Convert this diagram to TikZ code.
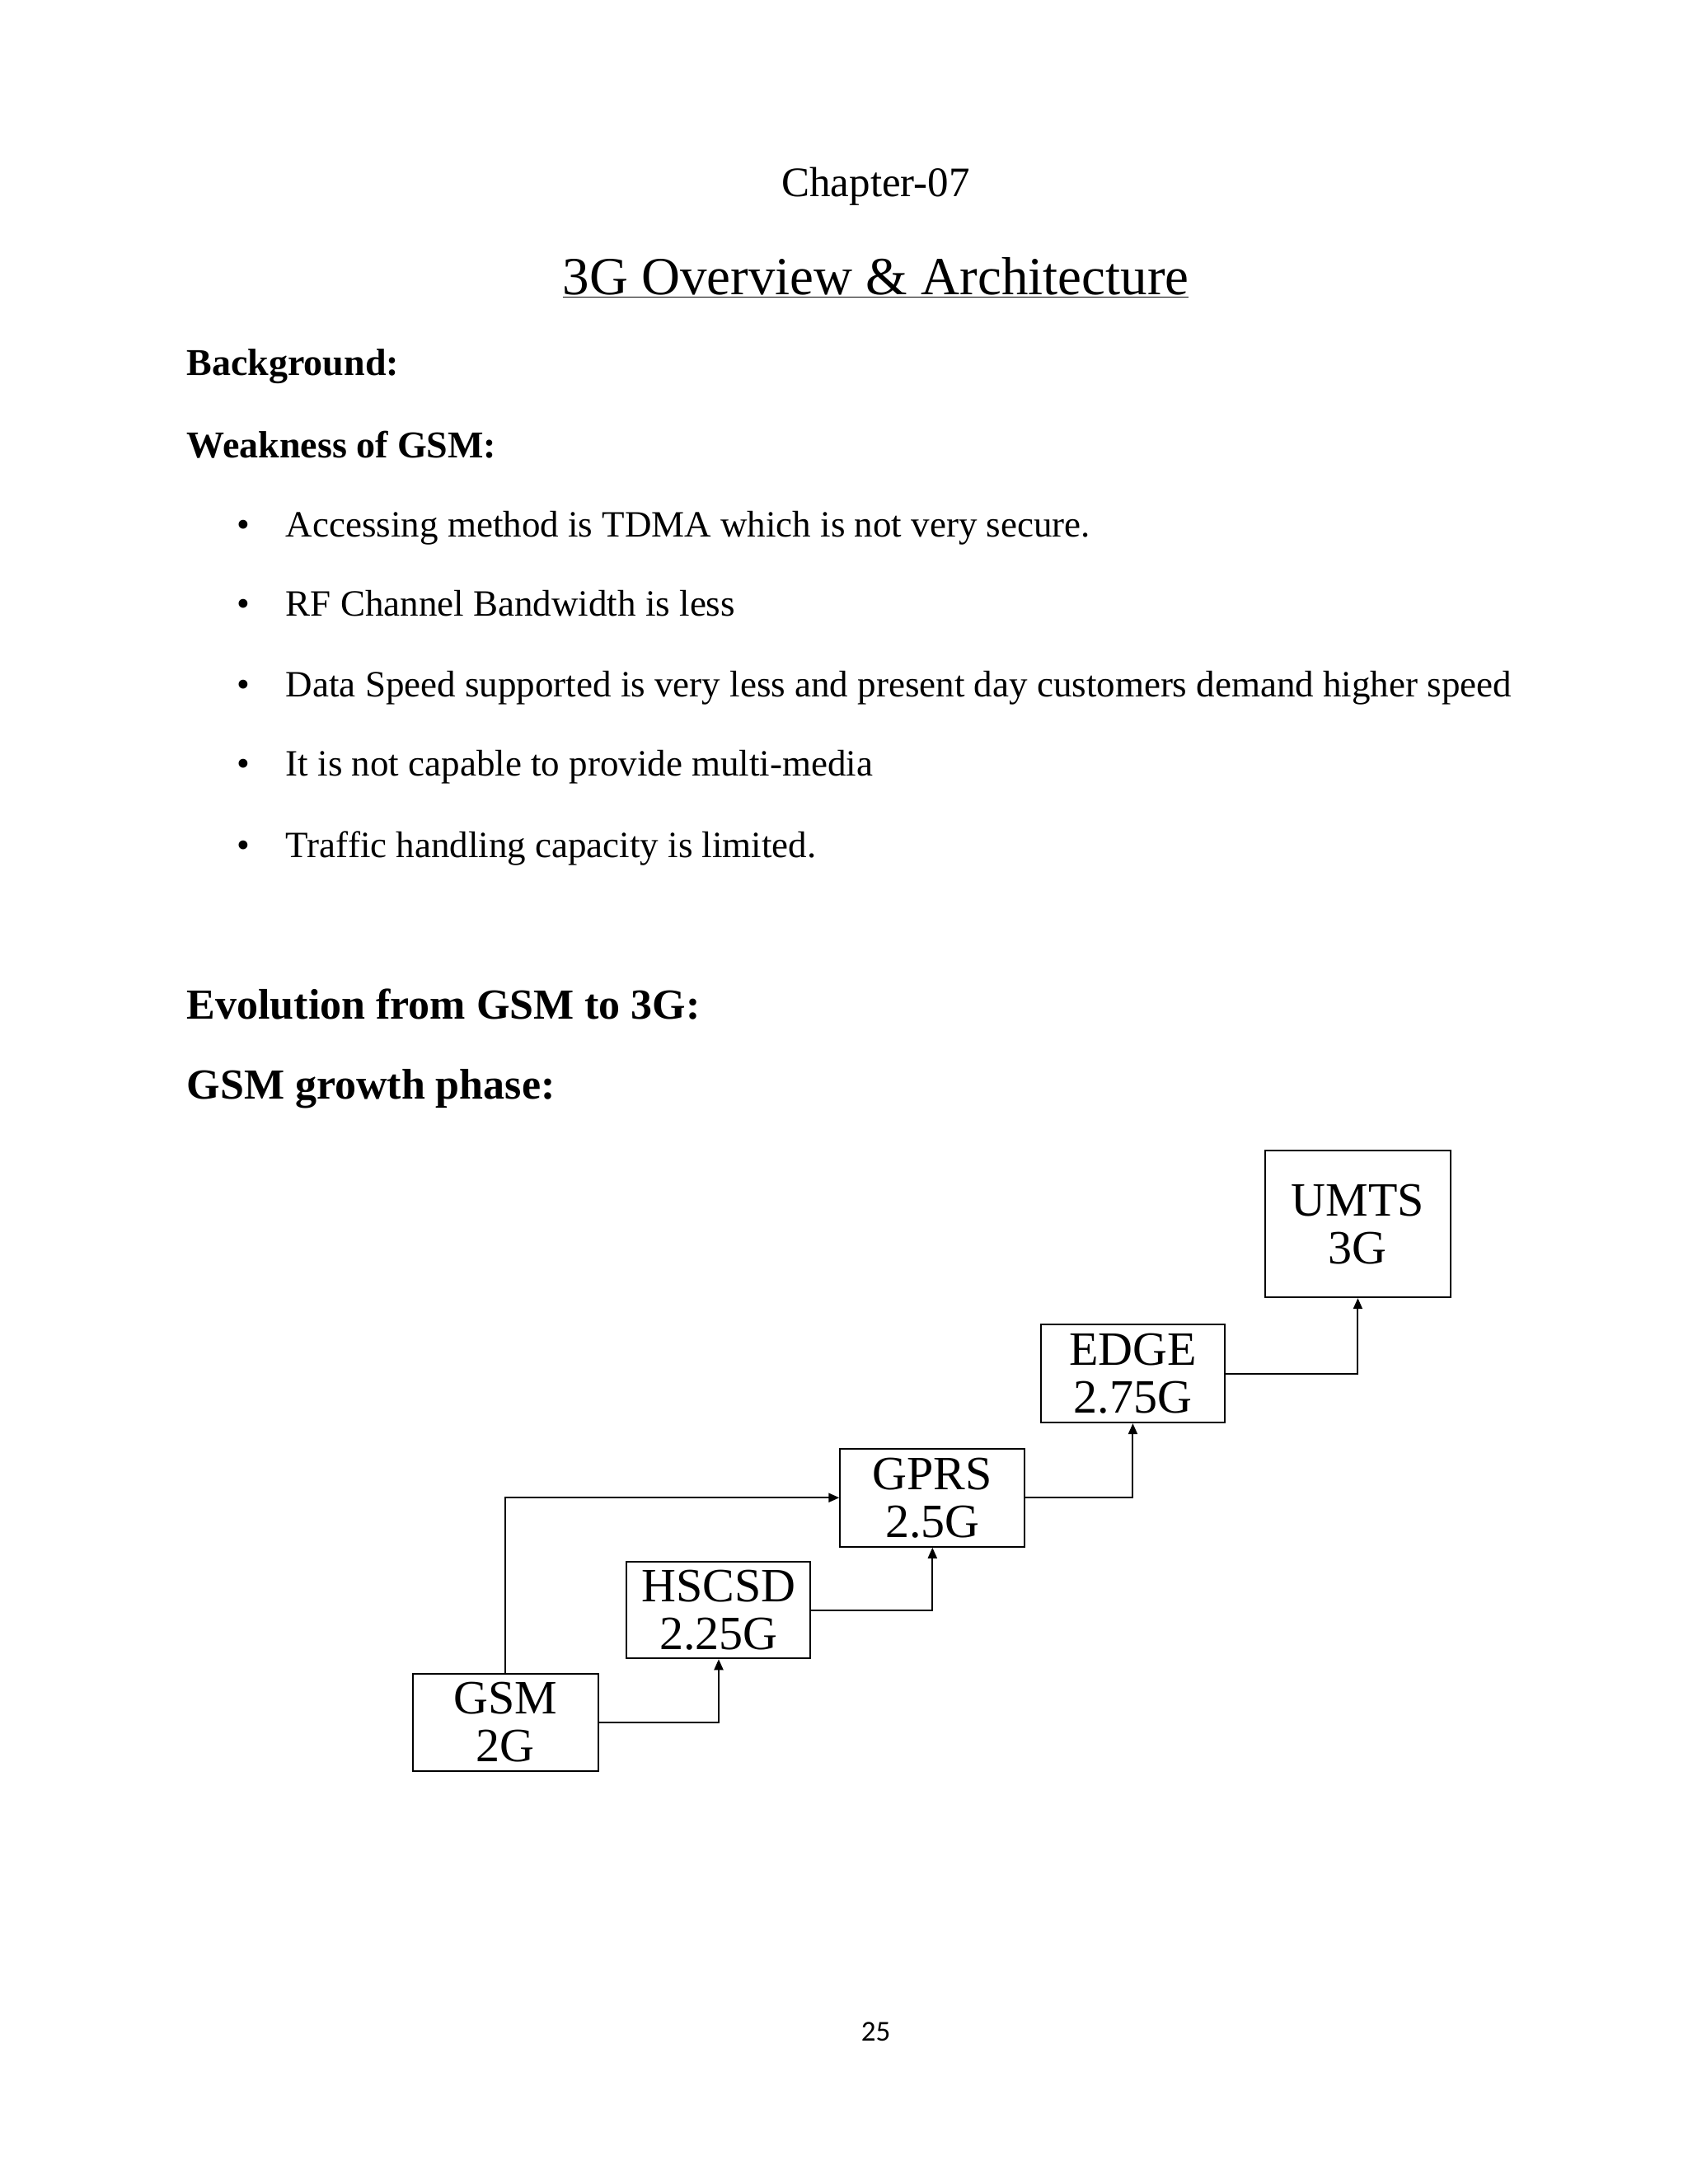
\documentclass[tikz,border=0pt]{standalone}
\usepackage{fontspec}
\setmainfont{Liberation Serif}
\newfontfamily\pgnum{Carlito}
\usetikzlibrary{arrows.meta}
\begin{document}
\begin{tikzpicture}[x=1.011pt,y=-1.011pt,
  body/.style={anchor=base west,inner sep=0pt,font=\fontsize{45}{52}\selectfont},
  head/.style={anchor=west,inner sep=0pt,font=\fontsize{46}{52}\selectfont\bfseries},
  bighead/.style={anchor=west,inner sep=0pt,font=\fontsize{52}{58}\selectfont\bfseries},
  gbox/.style={draw,line width=2pt,align=center,inner sep=0pt,font=\fontsize{58}{58}\selectfont},
  conn/.style={line width=2pt,-{Triangle[length=13pt,width=11pt]}}]
\useasboundingbox (0,0) rectangle (2025.7,2621.2);
\node[inner sep=0pt,font=\fontsize{51}{56}\selectfont] (ch) at (1051,224) {Chapter-07};
\node[inner sep=0pt,font=\fontsize{65}{72}\selectfont] (ti) at (1051,333) {\underline{3G Overview \& Architecture}};
\node[head] (bg) at (224,440) {Background:};
\node[head] (wk) at (224,534) {Weakness of GSM:};
\foreach \y/\t [count=\i] in {631/{Accessing method is TDMA which is not very secure.},726/{RF Channel Bandwidth is less},823/{Data Speed supported is very less and present day customers demand higher speed},918/{It is not capable to provide multi-media},1016/{Traffic handling capacity is limited.}}{
  \node[body] (b\i) at (284,\y+13) {\textbullet};
  \node[body] (t\i) at (343,\y+13) {\t};
}
\node[bighead] (ev) at (224,1205) {Evolution from GSM to 3G:};
\node[bighead] (gp) at (224,1307) {GSM growth phase:};
\node[gbox,minimum width=225pt,minimum height=118pt] (gsm) at (606.5,2067) {GSM\\2G};
\node[gbox,minimum width=223pt,minimum height=117pt] (hs) at (862.5,1932.5) {HSCSD\\2.25G};
\node[gbox,minimum width=224pt,minimum height=119pt] (gprs) at (1119,1797.5) {GPRS\\2.5G};
\node[gbox,minimum width=223pt,minimum height=119pt] (edge) at (1359.5,1648.5) {EDGE\\2.75G};
\node[gbox,minimum width=225pt,minimum height=178pt] (umts) at (1629.5,1469) {UMTS\\3G};
\draw[conn] (gsm.east) -| (hs.south);
\draw[conn] (hs.east) -| (gprs.south);
\draw[conn] (gprs.east) -| (edge.south);
\draw[conn] (edge.east) -| (umts.south);
\draw[conn] (gsm.north) |- (gprs.west);
\node[inner sep=0pt,font=\pgnum\fontsize{35}{40}\selectfont] (pn) at (1051,2438) {25};
\end{tikzpicture}
\end{document}
